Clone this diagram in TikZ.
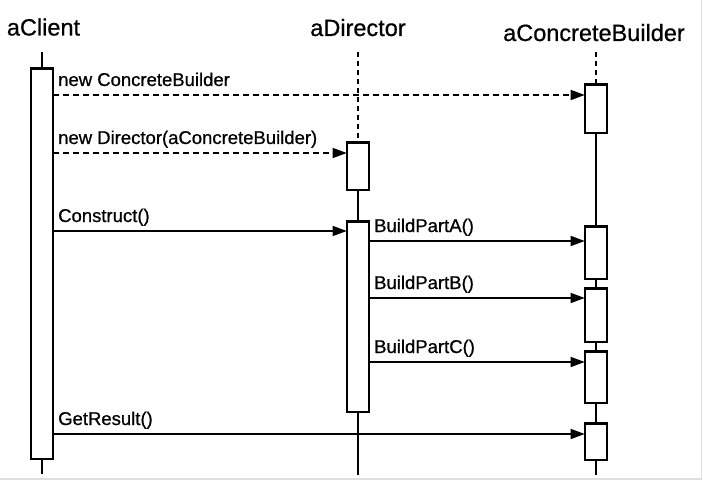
\documentclass[tikz,border=0pt]{standalone}
\usepackage{fontspec}
\setmainfont{Liberation Sans}
\newfontfamily\heavyfont{Liberation Sans}[FakeBold=0.7]
\usetikzlibrary{arrows.meta}
\begin{document}
\begin{tikzpicture}[x=1pt,y=-1pt,
  actbox/.style={draw,fill=white,line width=1.6pt,minimum width=21pt,inner sep=0pt,anchor=north},
  lifesolid/.style={line width=1.2pt},
  lifedot/.style={line width=1.6pt,dash pattern=on 5pt off 4pt},
  msg/.style={line width=1.5pt,-{Triangle[length=14pt,width=10pt]}},
  msgdash/.style={msg,dash pattern=on 6pt off 4pt},
  title/.style={font=\heavyfont\fontsize{23.5}{26}\selectfont,anchor=base,inner sep=0pt},
  lbl/.style={font=\heavyfont\fontsize{18.5}{21}\selectfont,anchor=base west,inner sep=0pt}]
\useasboundingbox (0,0) rectangle (703,481);
\draw[gray!25,line width=1.5pt] (701.5,0) -- (701.5,479) -- (0,479);
% titles
\node[title] (tc) at (43.5,35.5) {aClient};
\node[title] (td) at (358,36) {aDirector};
\node[title] (tb) at (594,41) {aConcreteBuilder};
% lifeline end coordinates
\coordinate (ctop) at (42,52);
\coordinate (cbot) at (42,474);
\coordinate (dtop) at (358,52);
\coordinate (dbot) at (358,475);
\coordinate (btop) at (596,52);
\coordinate (bbot) at (596,475);
% activation boxes
\node[actbox,minimum height=390pt] (cbox) at (42,68) {};
\node[actbox,minimum height=47pt] (d1) at (358,142) {};
\node[actbox,minimum height=190pt] (d2) at (358,221) {};
\node[actbox,minimum height=48pt] (b1) at (596,84) {};
\node[actbox,minimum height=52pt] (b2) at (596,226) {};
\node[actbox,minimum height=53pt] (b3) at (596,288) {};
\node[actbox,minimum height=51pt] (b4) at (596,351) {};
\node[actbox,minimum height=36pt] (b5) at (596,423) {};
% lifelines
\draw[lifesolid] (ctop) -- (cbox.north);
\draw[lifesolid] (cbox.south) -- (cbot);
\draw[lifedot] (dtop) -- (d1.north);
\draw[lifesolid] (d1.south) -- (d2.north);
\draw[lifesolid] (d2.south) -- (dbot);
\draw[lifedot] (btop) -- (b1.north);
\draw[lifesolid] (b1.south) -- (b2.north);
\draw[lifesolid] (b2.south) -- (b3.north);
\draw[lifesolid] (b3.south) -- (b4.north);
\draw[lifesolid] (b4.south) -- (b5.north);
\draw[lifesolid] (b5.south) -- (bbot);
% redraw box outlines on top
\foreach \n in {cbox,d1,d2,b1,b2,b3,b4,b5}{\draw[line width=1.6pt] (\n.north west) rectangle (\n.south east);}
% message y levels
\coordinate (m1) at (0,95);
\coordinate (m2) at (0,153);
\coordinate (m3) at (0,231);
\coordinate (m4) at (0,241);
\coordinate (m5) at (0,298);
\coordinate (m6) at (0,362);
\coordinate (m7) at (0,434);
% messages
\draw[msgdash] (cbox.east |- m1) -- (b1.west |- m1);
\node[lbl] (l1) at (58,86) {new ConcreteBuilder};
\draw[msgdash] (cbox.east |- m2) -- (d1.west |- m2);
\node[lbl] (l2) at (58,144) {new Director(aConcreteBuilder)};
\draw[msg] (cbox.east |- m3) -- (d2.west |- m3);
\node[lbl] (l3) at (58,222) {Construct()};
\draw[msg] (d2.east |- m4) -- (b2.west |- m4);
\node[lbl] (l4) at (374,232) {BuildPartA()};
\draw[msg] (d2.east |- m5) -- (b3.west |- m5);
\node[lbl] (l5) at (374,289) {BuildPartB()};
\draw[msg] (d2.east |- m6) -- (b4.west |- m6);
\node[lbl] (l6) at (374,353) {BuildPartC()};
\draw[msg] (cbox.east |- m7) -- (b5.west |- m7);
\node[lbl] (l7) at (58,425) {GetResult()};
\end{tikzpicture}
\end{document}
